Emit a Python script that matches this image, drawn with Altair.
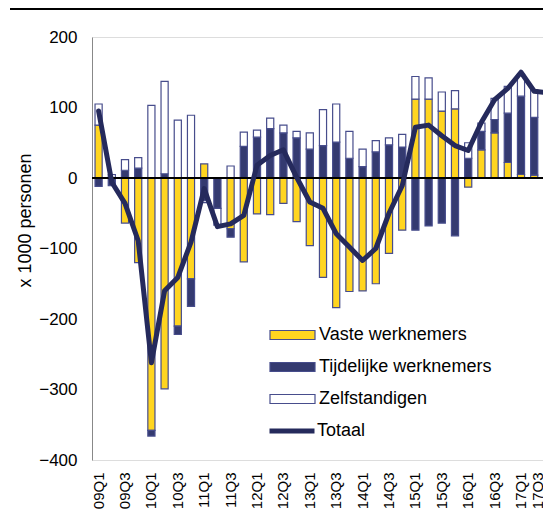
import altair as alt
import pandas as pd

quarters = ["09Q1", "09Q2", "09Q3", "09Q4", "10Q1", "10Q2", "10Q3", "10Q4",
            "11Q1", "11Q2", "11Q3", "11Q4", "12Q1", "12Q2", "12Q3", "12Q4",
            "13Q1", "13Q2", "13Q3", "13Q4", "14Q1", "14Q2", "14Q3", "14Q4",
            "15Q1", "15Q2", "15Q3", "15Q4", "16Q1", "16Q2", "16Q3", "16Q4",
            "17Q1", "17Q2", "17Q3"]
label_quarters = ["09Q1", "09Q3", "10Q1", "10Q3", "11Q1", "11Q3", "12Q1", "12Q3",
                  "13Q1", "13Q3", "14Q1", "14Q3", "15Q1", "15Q3", "16Q1", "16Q3",
                  "17Q1", "17Q3"]

vaste = [75, 0, -64, -120, -358, -299, -210, -143, 20, 0, -72, -119, -51, -52, -36, -62,
         -96, -141, -184, -161, -160, -150, -107, -74, 112, 112, 95, 98, -13, 40, 64, 22,
         5, 4, 26]
tijdelijk = [-12, -11, 11, 14, -8, 6, -12, -39, -32, -43, -12, 45, 58, 70, 64, 57,
             41, 46, 51, 28, 16, 37, 47, 44, -74, -68, -64, -82, 28, 26, 19, 70,
             111, 82, 77]
zelf = [30, 5, 15, 15, 103, 131, 82, 89, -3, -24, 17, 20, 10, 15, 11, 9,
        23, 51, 54, 38, 25, 16, 10, 18, 32, 30, 27, 26, 22, 12, 30, 38,
        31, 39, 8]
totaal = [95, -6, -36, -89, -262, -160, -141, -91, -15, -69, -65, -53, 18, 32, 40, 1,
          -34, -43, -79, -98, -117, -100, -50, -11, 72, 75, 60, 46, 39, 79, 111, 127,
          150, 123, 121]

cat_names = ["Vaste werknemers", "Tijdelijke werknemers", "Zelfstandigen"]
cat_colors = ["#FFD520", "#343A70", "#FFFFFF"]
line_name = ["Totaal"]
line_color = ["#252A5C"]
y_ticks = [-400, -300, -200, -100, 0, 100, 200]

rows = []
for i, q in enumerate(quarters):
    for k, (name, series) in enumerate(zip(cat_names, [vaste, tijdelijk, zelf])):
        rows.append({"kwartaal": q, "categorie": name, "waarde": series[i], "volgorde": k})
df_bars = pd.DataFrame(rows)
df_line = pd.DataFrame({"kwartaal": quarters, "waarde": totaal, "reeks": "Totaal"})

FONT = "Liberation Sans"
border = "#474D8C"

x_enc = alt.X("kwartaal:N", sort=quarters,
              scale=alt.Scale(domain=quarters, paddingInner=0.46, paddingOuter=0.23,
                              range=[0, 462]),
              axis=alt.Axis(values=label_quarters, labelAngle=-90, domain=False, ticks=False,
                            labelPadding=12, labelFontSize=15, labelColor="black",
                            labelFont=FONT, title=None, grid=False,
                            labelOffset={"condition": {"test": "datum.value == '17Q3'",
                                                       "value": -9},
                                         "value": 0}))
y_scale = alt.Scale(domain=[-400, 200], nice=False, zero=False)

bars = alt.Chart(df_bars).mark_bar(stroke=border, strokeWidth=1.2).encode(
    x=x_enc,
    y=alt.Y("waarde:Q", stack="zero", scale=y_scale,
            axis=alt.Axis(values=y_ticks, ticks=False, domain=True, domainColor="#888888",
                          domainWidth=1, grid=False, labelFontSize=17, labelPadding=15,
                          labelColor="black", labelFont=FONT, labelFlush=False,
                          title="x 1000 personen", titleFontSize=18, titleFont=FONT,
                          titleFontWeight="normal", titleColor="black",
                          titleX=-62, titleY=183, titleBaseline="alphabetic")),
    fill=alt.Fill("categorie:N", sort=cat_names,
                  scale=alt.Scale(domain=cat_names, range=cat_colors),
                  legend=alt.Legend(title=None, orient="none", legendX=177, legendY=288,
                                    symbolType="M-1,-0.2L1,-0.2L1,0.2L-1,0.2Z",
                                    symbolSize=2025, symbolStrokeColor=border,
                                    symbolStrokeWidth=1.2, symbolOpacity=1,
                                    labelFontSize=18, labelFont=FONT, labelColor="black",
                                    labelOffset=3, labelLimit=300, clipHeight=20,
                                    rowPadding=12, padding=0)),
    order=alt.Order("volgorde:Q", sort="ascending"),
)

zero_rule = alt.Chart(df_line).mark_rule(color="black", strokeWidth=1.5).encode(
    y=alt.datum(0)
)

line = alt.Chart(df_line).mark_line(strokeWidth=5, strokeJoin="round", strokeCap="round").encode(
    x=alt.X("kwartaal:N", sort=quarters),
    y=alt.Y("waarde:Q"),
    stroke=alt.Stroke("reeks:N", scale=alt.Scale(domain=line_name, range=line_color),
                      legend=alt.Legend(title=None, orient="none", legendX=175, legendY=384,
                                        symbolType="stroke", symbolSize=2025,
                                        symbolStrokeWidth=5, labelFontSize=18,
                                        labelFont=FONT, labelColor="black",
                                        labelOffset=0, labelLimit=300, clipHeight=20,
                                        padding=0)),
)

top_rule = alt.Chart(df_line).mark_rule(color="black", strokeWidth=1.5).encode(
    x=alt.value(-82), x2=alt.value(470), y=alt.value(-28)
)

chart = alt.layer(bars, zero_rule, line, top_rule).properties(
    width=451, height=423,
    autosize=alt.AutoSizeParams(type="none"),
    padding={"left": 84, "top": 29, "right": 0, "bottom": 52},
).configure_view(stroke=None).configure(font=FONT)

chart.save("out.html", embed_options={"renderer": "svg", "actions": False})
